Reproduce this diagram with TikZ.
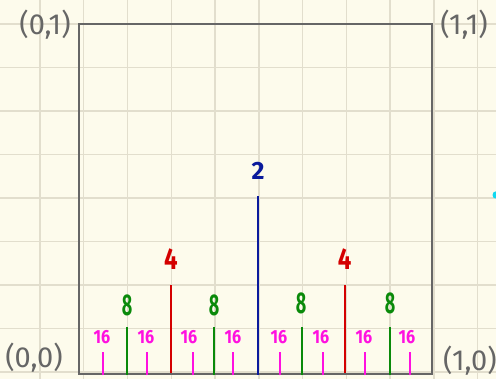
\documentclass[tikz,border=0pt]{standalone}
\usepackage{graphicx}
\usepackage{fontspec}
\setmainfont{Fira Sans}
\definecolor{bg}{HTML}{FDFBEC}
\definecolor{gridc}{HTML}{E2DECD}
\definecolor{boxc}{HTML}{666666}
\definecolor{cblue}{HTML}{0A1A9C}
\definecolor{cred}{HTML}{D40000}
\definecolor{cgreen}{HTML}{0A8A0A}
\definecolor{cpink}{HTML}{FF10E0}
\definecolor{ccyan}{HTML}{10D8F0}
\tikzset{
  gridline/.style={draw=gridc, line width=1.4pt},
  boxline/.style={draw=boxc, line width=2pt},
  corner/.style={text=boxc, font=\fontsize{29}{29}\selectfont, inner sep=0pt},
  bar/.style={line width=1.8pt},
  lbltwo/.style={text=cblue, font=\bfseries\fontsize{25}{25}\selectfont, inner sep=0pt},
  lblfour/.style={text=cred, font=\bfseries\fontsize{30}{30}\selectfont, inner sep=0pt},
  lbleight/.style={text=cgreen, font=\bfseries\fontsize{30}{30}\selectfont, inner sep=0pt},
  lblsix/.style={text=cpink, font=\bfseries\fontsize{19}{19}\selectfont, inner sep=0pt},
}
\begin{document}
\begin{tikzpicture}[x=1pt,y=-1pt]
\fill[bg] (0,0) rectangle (496,379);
\useasboundingbox (0,0) rectangle (496,379);
% grid
\foreach \i in {0,...,10} \draw[gridline] ({40+43.77*\i},0) -- ++(0,379);
\foreach \j in {0,...,8} \draw[gridline] (0,{24+43.5*\j}) -- ++(496,0);
% cyan blob at right edge
\fill[ccyan] (495.5,195) ellipse (3 and 3.5);
% box
\draw[boxline] (79,24.5) rectangle (432,374.5);
% corner labels
\node[corner] (c01) at (45,25) {(0,1)};
\node[corner] (c11) at (464,25) {(1,1)};
\node[corner] (c00) at (34,358) {(0,0)};
\node[corner] (c10) at (470,361) {(1,0)};
% half
\coordinate (b2) at (258.3,375);
\draw[bar, cblue] (b2) -- (258.3,196.5);
\node[lbltwo] (l2) at (258,171) {2};
% quarters
\foreach \x [count=\k] in {171,344.7} {
  \draw[bar, cred] (\x,373) -- (\x,285.5);
  \node[lblfour] (l4\k) at (\x,259) {\scalebox{0.8}[1]{4}};
}
% eighths
\foreach \x/\lx/\ly [count=\k] in {126.7/127/305, 213.7/214/305, 301.7/301/303, 390/390/303} {
  \draw[bar, cgreen] (\x,375.5) -- (\x,327.3);
  \node[lbleight] (l8\k) at (\lx,\ly) {\scalebox{0.6}[1]{8}};
}
% sixteenths
\foreach \x/\lx [count=\k] in {102.7/102, 146.7/146, 192.7/189, 233.3/233, 279.7/279, 323/321, 364.7/364, 410.3/407} {
  \draw[bar, cpink] (\x,375.5) -- (\x,351.7);
  \node[lblsix] (l16\k) at (\lx,337) {\scalebox{0.85}[1]{16}};
}
\end{tikzpicture}
\end{document}
